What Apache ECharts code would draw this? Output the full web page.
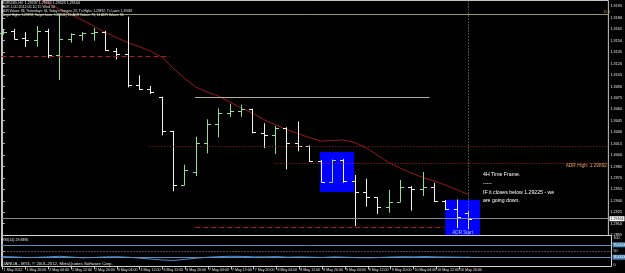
<!DOCTYPE html>
<html>
<head>
<meta charset="utf-8">
<script src="https://cdn.jsdelivr.net/npm/echarts@6/dist/echarts.min.js"></script>
<style>
  html, body { margin: 0; padding: 0; background: #000; }
  #chart { width: 625px; height: 273px; }
</style>
</head>
<body>
<div id="chart"></div>
<script>
// EURUSD H4
var timeLabels = ["1 May 2012", "1 May 20:00", "2 May 04:00", "2 May 12:00", "2 May 20:00", "4 May 04:00",
  "4 May 12:00", "6 May 12:00", "6 May 20:00", "7 May 04:00", "7 May 12:00", "7 May 20:00", "8 May 04:00",
  "8 May 12:00", "8 May 20:00", "9 May 04:00", "9 May 12:00", "9 May 20:00", "10 May 04:00", "10 May 12:00",
  "10 May 20:00"];

var barOpen = [1.31601, 1.31623, 1.31535, 1.31509, 1.31631, 1.31312, 1.31526, 1.31579, 1.31597, 1.31614,
  1.31365, 1.31325, 1.30923, 1.30870, 1.30765, 1.30311, 1.29610, 1.29777, 1.30154, 1.30413,
  1.30547, 1.30581, 1.30600, 1.30285, 1.30266, 1.30354, 1.30161, 1.30118, 1.29917, 1.29646,
  1.29930, 1.29663, 1.29518, 1.29445, 1.29314, 1.29383, 1.29584, 1.29558, 1.29584, 1.29400,
  1.29298, 1.29237];
var barHigh = [1.31650, 1.31657, 1.31614, 1.31693, 1.31657, 1.31850, 1.31597, 1.31614, 1.31667, 1.31631,
  1.31404, 1.31815, 1.31046, 1.30906, 1.30765, 1.30319, 1.29873, 1.30240, 1.30469, 1.30613,
  1.30673, 1.30660, 1.30608, 1.30416, 1.30381, 1.30364, 1.30442, 1.30127, 1.29934, 1.29941,
  1.29948, 1.29738, 1.29689, 1.29445, 1.29541, 1.29672, 1.29593, 1.29777, 1.29636, 1.29409,
  1.29416, 1.29265];
var barLow = [1.31579, 1.31518, 1.31417, 1.31421, 1.31273, 1.30984, 1.31474, 1.31500, 1.31500, 1.31369,
  1.31256, 1.30888, 1.30853, 1.30801, 1.30259, 1.29524, 1.29602, 1.29724, 1.30022, 1.30232,
  1.30499, 1.30503, 1.30285, 1.30092, 1.30013, 1.29812, 1.30049, 1.29908, 1.29642, 1.29636,
  1.29636, 1.29068, 1.29322, 1.29226, 1.29243, 1.29383, 1.29269, 1.29462, 1.29383, 1.29278,
  1.29042, 1.29025];
var barClose = [1.31614, 1.31522, 1.31509, 1.31631, 1.31312, 1.31526, 1.31584, 1.31597, 1.31614, 1.31378,
  1.31322, 1.30923, 1.30870, 1.30827, 1.30319, 1.29610, 1.29803, 1.30154, 1.30413, 1.30547,
  1.30577, 1.30600, 1.30302, 1.30266, 1.30354, 1.30161, 1.30118, 1.29917, 1.29646, 1.29934,
  1.29663, 1.29518, 1.29445, 1.29314, 1.29383, 1.29584, 1.29558, 1.29584, 1.29400, 1.29295,
  1.29190, 1.29164];

// moving average (dark red line), first bars are above the window
var maValues = [1.32257, 1.32192, 1.32126, 1.32060, 1.31988, 1.31916, 1.31844, 1.31772, 1.31693, 1.31614,
  1.31542, 1.31476, 1.31424, 1.31365, 1.31286, 1.31142, 1.31010, 1.30892, 1.30827, 1.30774,
  1.30696, 1.30617, 1.30551, 1.30466, 1.30400, 1.30335, 1.30282, 1.30230, 1.30184, 1.30190,
  1.30197, 1.30164, 1.30098, 1.30000, 1.29902, 1.29829, 1.29764, 1.29705, 1.29659, 1.29606,
  1.29547, 1.29482];

var rsiValues = [32, 31, 29, 29.5, 31, 33, 30.5, 28, 29, 31, 31.5, 30, 27, 24, 21, 19.5, 23, 27, 30, 32,
  33, 32.5, 31, 31, 32, 30, 31, 30, 29, 31, 30, 28.5, 28, 29, 30.5, 31.5, 31, 32, 31, 30.5,
  30, 29.84];

var priceTicks = [1.3195, 1.3180, 1.3165, 1.3150, 1.3135, 1.3120, 1.3105, 1.3090, 1.3075, 1.3060, 1.3045,
  1.3030, 1.3015, 1.3000, 1.2985, 1.2970, 1.2955, 1.2940, 1.2925, 1.2910, 1.2895];

// horizontal objects: price, first bar, last bar
var levelPrice = [1.31845, 1.30761, 1.31290, 1.30112, 1.29892, 1.29051];
var levelFrom = [-0.1, 16.94, -0.1, 12.92, 23.95, 16.96];
var levelTo = [53.35, 37.6, 14.75, 53.35, 53.35, 38.9];

// blue rectangles
var zoneFrom = [27.94, 38.98];
var zoneTo = [30.96, 42.05];
var zoneTop = [1.30039, 1.29409];
var zoneBottom = [1.29514, 1.28950];

var xMin = -0.105, xMax = 53.357;
var priceMin = 1.28944, priceMax = 1.32028;
var FONT = 'Liberation Sans';

var chart = echarts.init(document.getElementById('chart'));

var ohlc = barOpen.map(function (o, i) {
  return [i, o, barHigh[i], barLow[i], barClose[i]];
});
var maData = maValues.map(function (v, i) { return [i, v]; });
var rsiData = rsiValues.map(function (v, i) { return [i, v]; });
var timeIdx = timeLabels.map(function (t, k) { return k * 2; });

function renderBar(params, api) {
  var i = api.value(0);
  var o = api.coord([i, api.value(1)]);
  var h = api.coord([i, api.value(2)]);
  var l = api.coord([i, api.value(3)]);
  var c = api.coord([i, api.value(4)]);
  var x = Math.round(h[0]) + 0.5;
  var yo = Math.round(o[1]) + 0.5;
  var yc = Math.round(c[1]) + 0.5;
  var col = api.value(4) >= api.value(1) ? '#92de92' : '#f2f2f2';
  var st = { stroke: col, lineWidth: 1 };
  return {
    type: 'group',
    children: [
      { type: 'line', shape: { x1: x, y1: h[1], x2: x, y2: l[1] }, style: st },
      { type: 'line', shape: { x1: x - 3.5, y1: yo, x2: x, y2: yo }, style: st },
      { type: 'line', shape: { x1: x, y1: yc, x2: x + 3.5, y2: yc }, style: st }
    ]
  };
}

var levelStyles = [
  { color: '#9a9a68', type: 'solid', width: 1 },
  { color: '#b0b098', type: 'solid', width: 1 },
  { color: '#b01a1a', type: [5, 3], width: 1 },
  { color: '#a81c1c', type: [1, 2], width: 1 },
  { color: '#b82020', type: [1, 2], width: 1 },
  { color: '#b01a1a', type: [5, 3], width: 1 }
];

var levelLines = levelPrice.map(function (p, k) {
  return [{ coord: [levelFrom[k], p], lineStyle: levelStyles[k] }, { coord: [levelTo[k], p] }];
});
var last = barClose[barClose.length - 1];
levelLines.push([
  {
    coord: [levelFrom[0], last], lineStyle: { color: '#8a8a8a', type: 'solid', width: 1 },
    label: {
      show: true, position: 'end', formatter: last.toFixed(5), color: '#000', backgroundColor: '#fff',
      fontSize: 3.6, fontFamily: FONT, padding: [0.5, 1], distance: 1.2
    }
  },
  { coord: [levelTo[0], last] }
]);
levelLines.push({ xAxis: barOpen.length - 1, lineStyle: { color: '#9a9a9a', type: [1, 2], width: 1 } });

var zones = zoneFrom.map(function (f, k) {
  var a = { coord: [f, zoneTop[k]] };
  if (k === 1) {
    a.label = { show: true, position: 'insideBottom', formatter: 'ADR Start', color: '#a8c8ff',
      fontSize: 4.6, fontFamily: FONT, distance: 0 };
  }
  return [a, { coord: [zoneTo[k], zoneBottom[k]] }];
});

function txt(x, y, s, size, color, align) {
  return { type: 'text', x: x, y: y, silent: true, z: 50,
    style: { text: s, fill: color || '#e6e6e6', fontSize: size, fontFamily: FONT,
      verticalAlign: 'middle', align: align || 'left' } };
}

chart.setOption({
  animation: false,
  backgroundColor: '#000',
  grid: [
    { left: 1.5, right: 13.5, top: 0.5, height: 235, show: true, borderColor: '#c4c4c4', borderWidth: 1 },
    { left: 1.5, right: 13.5, top: 235.5, height: 31, show: true, borderColor: '#d0d0d0', borderWidth: 1 }
  ],
  xAxis: [
    { gridIndex: 0, type: 'value', min: xMin, max: xMax, show: false },
    {
      gridIndex: 1, type: 'value', min: xMin, max: xMax,
      axisLine: { show: false }, splitLine: { show: false },
      axisTick: { show: true, customValues: timeIdx, length: 3, lineStyle: { color: '#c8c8c8' } },
      axisLabel: {
        customValues: timeIdx, align: 'left', margin: 1.5, padding: [0, 0, 0, 1],
        color: '#e6e6e6', fontSize: 3.6, fontFamily: FONT,
        formatter: function (v) { return timeLabels[Math.round(v / 2)]; }
      }
    }
  ],
  yAxis: [
    {
      gridIndex: 0, type: 'value', position: 'right', min: priceMin, max: priceMax,
      axisLine: { show: true, lineStyle: { color: '#c4c4c4' } }, splitLine: { show: false },
      axisTick: { show: true, customValues: priceTicks, length: 2, lineStyle: { color: '#c4c4c4' } },
      axisLabel: {
        customValues: priceTicks, margin: 2, color: '#e6e6e6', fontSize: 3.8, fontFamily: FONT,
        formatter: function (v) { return v.toFixed(4); }
      }
    },
    {
      gridIndex: 1, type: 'value', position: 'right', min: 0, max: 100,
      axisLine: { show: true, lineStyle: { color: '#c4c4c4' } }, splitLine: { show: false },
      axisTick: { show: true, customValues: [0, 50, 100], length: 2, lineStyle: { color: '#c4c4c4' } },
      axisLabel: {
        customValues: [0, 50, 100], margin: 2, color: '#e6e6e6', fontSize: 3.6, fontFamily: FONT,
        formatter: function (v) {
          if (v === 100) return '{top|100}';
          if (v === 0) return '{bot|0}';
          return String(v);
        },
        rich: { top: { padding: [5, 0, 0, 0] }, bot: { padding: [0, 0, 4, 0] } }
      }
    }
  ],
  series: [
    {
      name: 'levels', type: 'line', xAxisIndex: 0, yAxisIndex: 0, data: [], z: 1, silent: true,
      markLine: { silent: true, symbol: ['none', 'none'], animation: false, label: { show: false }, data: levelLines }
    },
    {
      name: 'zones', type: 'line', xAxisIndex: 0, yAxisIndex: 0, data: [], z: 2, silent: true,
      markArea: { silent: true, itemStyle: { color: '#0000ff' }, data: zones }
    },
    {
      name: 'MA', type: 'line', xAxisIndex: 0, yAxisIndex: 0, data: maData, z: 3, silent: true,
      symbol: 'none', lineStyle: { color: '#9c1616', width: 1 }
    },
    {
      name: 'EURUSD', type: 'custom', xAxisIndex: 0, yAxisIndex: 0, data: ohlc, z: 4, silent: true,
      encode: { x: 0, y: [1, 2, 3, 4] }, renderItem: renderBar
    },
    {
      name: 'RSI', type: 'line', xAxisIndex: 1, yAxisIndex: 1, data: rsiData, z: 3, silent: true,
      symbol: 'none', lineStyle: { color: '#4a8fd8', width: 1 },
      markLine: {
        silent: true, symbol: ['none', 'none'], animation: false,
        data: [
          { yAxis: 70, lineStyle: { color: '#5a8cbc', type: 'solid', width: 1 },
            label: { show: true, position: 'end', formatter: '70.0000', color: '#fff', backgroundColor: '#4f86b8',
              fontSize: 3.6, fontFamily: FONT, padding: [0.5, 1], distance: 1 } },
          { yAxis: 50, lineStyle: { color: '#9a9a9a', type: [1, 2], width: 1 }, label: { show: false } },
          { yAxis: 30, lineStyle: { color: '#5a8cbc', type: 'solid', width: 1 },
            label: { show: true, position: 'end', formatter: '30.0000', color: '#fff', backgroundColor: '#4f86b8',
              fontSize: 3.6, fontFamily: FONT, padding: [0.5, 1], distance: 1 } }
        ]
      }
    }
  ],
  graphic: [
    txt(2, 2.7, 'EURUSD,H4  1.29237 1.29265 1.29025 1.29164', 3.6),
    txt(2, 6.7, 'ADR 1.00 2012.05.10 15 Wed 10', 3.6),
    txt(2, 10.7, "ADR Values: 86, Yesterdays: 94, Today's Ranges: 23, 7's Highs: 1.29892, 7's Lows: 1.29082", 3.2),
    txt(2, 15.3, 'Target Highs: 1.29892, Target Lows: 1.28846 | 10 ADR Values: 76, 14 ADR Values: 86', 3.2),
    txt(610, 12, '11.8', 3.6, '#b0b060', 'right'),
    txt(607, 165.5, 'ADR High: 1.29892', 4.8, '#e8a040', 'right'),
    txt(483, 175, '4H Time Frame.', 5.2, '#ffffff'),
    txt(483, 183.5, '-----', 5.2, '#ffffff'),
    txt(483, 192.5, 'IF it closes below 1.29225 - we', 5.2, '#ffffff'),
    txt(483, 200.5, 'are going down.', 5.2, '#ffffff'),
    txt(2, 240.3, 'RSI(14) 29.8396', 3.6),
    txt(2, 263.8, 'OANDA - MT4, \u00a9 2001-2012, MetaQuotes Software Corp.', 4.3)
  ]
});
</script>
</body>
</html>
